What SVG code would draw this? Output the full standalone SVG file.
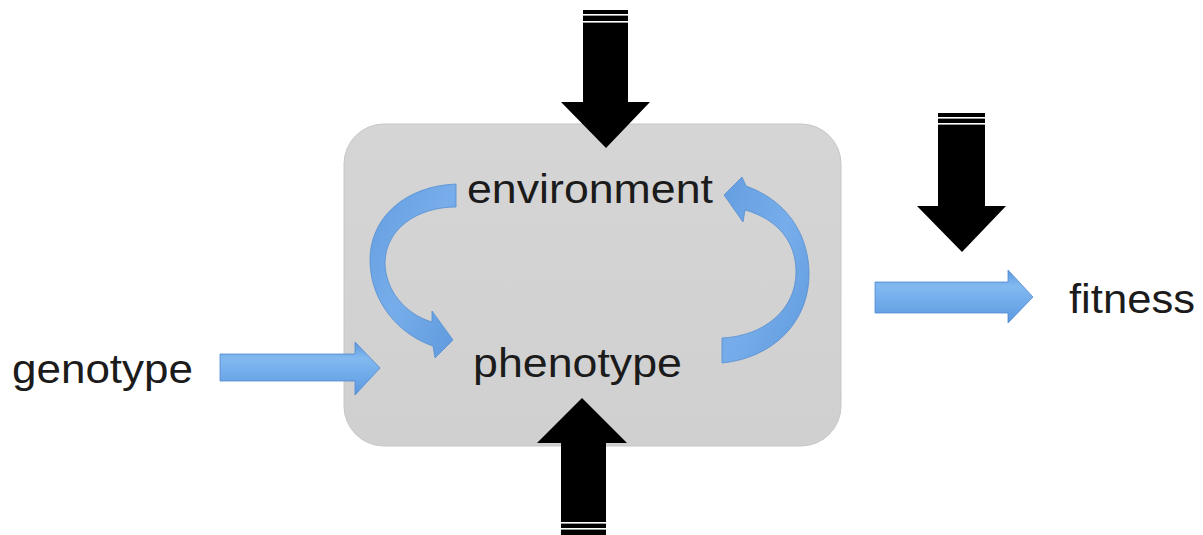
<svg xmlns="http://www.w3.org/2000/svg" width="1203" height="535" viewBox="0 0 1203 535">
  <defs>
    <linearGradient id="blueH" x1="0" y1="0" x2="0" y2="1">
      <stop offset="0" stop-color="#5d98dc"/>
      <stop offset="0.3" stop-color="#82b9f0"/>
      <stop offset="1" stop-color="#5b99e0"/>
    </linearGradient>
    <linearGradient id="blueC" x1="0" y1="0" x2="1" y2="1">
      <stop offset="0" stop-color="#5f9be0"/>
      <stop offset="0.5" stop-color="#72abec"/>
      <stop offset="1" stop-color="#5a98de"/>
    </linearGradient>
    <linearGradient id="boxFill" x1="0" y1="0" x2="0" y2="1">
      <stop offset="0" stop-color="#d5d5d5"/>
      <stop offset="1" stop-color="#d0d0d0"/>
    </linearGradient>
  </defs>
  <style>
    .lbl { font-family: "Liberation Sans", Arial, Helvetica, sans-serif; font-size: 41px; fill: #1b1b1b; }
    .black { fill: #000000; }
    .stripe { fill: #ffffff; }
    .blue { fill: url(#blueH); stroke: #5089cf; stroke-width: 0.8; }
    .curve { fill: url(#blueC); stroke: #4f8bd2; stroke-width: 0.8; opacity: 0.95; }
  </style>
  <rect width="1203" height="535" fill="#ffffff"/>

  <g id="box">
    <rect x="344" y="124" width="497" height="322" rx="40" ry="40" fill="url(#boxFill)" stroke="#c6c6c6" stroke-width="1"/>
  </g>

  <g id="environment">
    <text class="lbl" x="467" y="203" textLength="246" lengthAdjust="spacingAndGlyphs">environment</text>
  </g>
  <g id="phenotype">
    <text class="lbl" x="473" y="377" textLength="209" lengthAdjust="spacingAndGlyphs">phenotype</text>
  </g>
  <g id="genotype">
    <text class="lbl" x="12" y="383" textLength="181" lengthAdjust="spacingAndGlyphs">genotype</text>
  </g>
  <g id="fitness">
    <text class="lbl" x="1069" y="313" textLength="126" lengthAdjust="spacingAndGlyphs">fitness</text>
  </g>

  <g id="connectors">
    <!-- black arrow into environment from top -->
    <g id="arrow-top">
      <polygon class="black" points="583,10 628,10 628,102 650,102 606,148 561,102 583,102"/>
      <rect class="stripe" x="583" y="14" width="45" height="1.6"/>
      <rect class="stripe" x="583" y="21" width="45" height="1.6"/>
    </g>
    <!-- black arrow into phenotype from bottom -->
    <g id="arrow-bottom">
      <polygon class="black" points="561,535 606,535 606,443 627,443 582,398 537,443 561,443"/>
      <rect class="stripe" x="561" y="522" width="45" height="1.6"/>
      <rect class="stripe" x="561" y="528" width="45" height="1.6"/>
    </g>
    <!-- black arrow onto fitness arrow -->
    <g id="arrow-fitness-top">
      <polygon class="black" points="938,113 985,113 985,206 1006,206 962,252 917,206 938,206"/>
      <rect class="stripe" x="938" y="117" width="47" height="1.6"/>
      <rect class="stripe" x="938" y="123" width="47" height="1.6"/>
    </g>
    <!-- genotype -> phenotype -->
    <polygon id="arrow-genotype" class="blue" points="220,354 355,354 355,342 380,368 355,395 355,381 220,381"/>
    <!-- box -> fitness -->
    <polygon id="arrow-fitness" class="blue" points="875,282 1008,282 1008,270 1033,297 1008,323 1008,313 875,313"/>
    <!-- environment -> phenotype (left curve) -->
    <path id="curve-left" class="curve" d="M456,184 C405,186 369,218 370,262 C371,303 400,335 433,346 L435,358 L453,340 L432,311 L432,322 C405,314 385,290 385,262 C386,229 417,207 456,207 Z"/>
    <!-- phenotype -> environment (right curve) -->
    <path id="curve-right" class="curve" d="M722,363 C773,358 810,322 809,272 C808,230 783,199 746,186 L742,177 L724,195 L743,222 L745,210 C777,219 796,241 796,272 C796,309 765,336 722,338 Z"/>
  </g>
</svg>
